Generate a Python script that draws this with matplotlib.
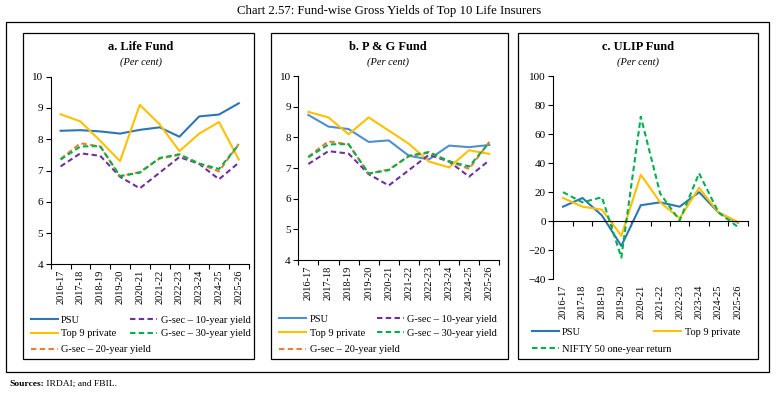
import matplotlib
matplotlib.use("Agg")
import matplotlib.pyplot as plt
from matplotlib.patches import Rectangle
from matplotlib.transforms import blended_transform_factory

plt.rcParams["font.family"] = ["Liberation Serif", "DejaVu Serif"]

years = ["2016-17", "2017-18", "2018-19", "2019-20", "2020-21",
         "2021-22", "2022-23", "2023-24", "2024-25", "2025-26"]

# a. Life Fund
life_psu = [8.27, 8.29, 8.25, 8.18, 8.30, 8.38, 8.08, 8.73, 8.79, 9.15]
life_pvt = [8.80, 8.57, 7.95, 7.30, 9.10, 8.48, 7.62, 8.18, 8.55, 7.35]
# b. P & G Fund
pg_psu = [8.73, 8.35, 8.27, 7.85, 7.90, 7.40, 7.28, 7.73, 7.68, 7.75]
pg_pvt = [8.83, 8.65, 8.10, 8.65, 8.22, 7.79, 7.21, 7.02, 7.58, 7.46]
# G-sec yields (same in a and b)
gsec10 = [7.13, 7.55, 7.47, 6.80, 6.43, 6.93, 7.43, 7.21, 6.72, 7.25]
gsec20 = [7.37, 7.87, 7.77, 6.82, 6.95, 7.38, 7.50, 7.22, 6.97, 7.85]
gsec30 = [7.35, 7.77, 7.78, 6.82, 6.93, 7.40, 7.52, 7.22, 7.05, 7.83]
# c. ULIP Fund
ulip_psu = [10, 16, 4, -17, 11, 13, 10, 20, 6, -1]
ulip_pvt = [16, 10, 8, -10, 32, 13, 2, 23, 6, -0.5]
nifty = [20, 13, 16.5, -25, 72, 19, 0.5, 33, 6, -4]

BLUE, BLUE_L, GOLD = "#2E75B6", "#4F8FCF", "#FFC000"
PURPLE, ORANGE, GREEN = "#7030A0", "#ED7D31", "#00B050"
DASH = (2.6, 1.6)
LW = 1.5

W, H = 779, 393


def box(l, t, r, b):
    return [l / W, 1 - b / H, (r - l) / W, (b - t) / H]


def fx(x):
    return x / W


def fy(y):
    return 1 - y / H


fig = plt.figure(figsize=(W / 100, H / 100), dpi=100)

# frames
for l, t, r, b in [(6, 22, 769, 372), (22.7, 33.3, 254, 359),
                   (271, 33.3, 508, 359), (518, 33.3, 758, 359)]:
    fig.patches.append(Rectangle((fx(l), fy(b)), (r - l) / W, (b - t) / H,
                                 transform=fig.transFigure, fill=False,
                                 edgecolor="black", lw=0.9))

fig.text(0.5, fy(11), "Chart 2.57: Fund-wise Gross Yields of Top 10 Life Insurers",
         ha="center", va="center", fontsize=9.2)
src = fig.text(fx(9), fy(384), "Sources:", fontweight="bold", fontsize=6.8,
               va="center")
x = list(range(len(years)))


def style(ax, ylim, yticks):
    ax.set_xlim(-0.5, len(years) - 0.5)
    ax.set_ylim(*ylim)
    ax.set_yticks(yticks)
    ax.spines["top"].set_visible(False)
    ax.spines["right"].set_visible(False)
    for s in ("left", "bottom"):
        ax.spines[s].set_linewidth(0.8)
    ax.tick_params(axis="y", labelsize=8, length=3.5, width=0.8, pad=2)
    ax.set_facecolor("none")


def cat_ticks(ax):
    ax.set_xticks([i - 0.5 for i in range(len(years) + 1)])
    ax.set_xticklabels([])
    ax.set_xticks(x, minor=True)
    ax.set_xticklabels(years, minor=True, rotation=90, fontsize=7.5)
    ax.tick_params(axis="x", which="major", length=3.5, width=0.8)
    ax.tick_params(axis="x", which="minor", length=0, pad=4)


def panel_title(cx, title):
    fig.text(fx(cx), fy(47), title, ha="center", va="center",
             fontsize=9, fontweight="bold")
    fig.text(fx(cx), fy(62), "(Per cent)", ha="center", va="center",
             fontsize=7.5, style="italic")


def leg(h, px, py):
    fig.legend([h], [h.get_label()], loc="center left",
               bbox_to_anchor=(fx(px), fy(py)), frameon=False, fontsize=7.5,
               borderpad=0, borderaxespad=0, handlelength=2.6,
               handletextpad=0.35)


def yield_panel(rect, psu, pvt, psu_col, cx, title, lx1, lx2, rows):
    ax = fig.add_axes(box(*rect))
    style(ax, (4, 10), range(4, 11))
    cat_ticks(ax)
    h1, = ax.plot(x, psu, color=psu_col, lw=LW, label="PSU")
    h2, = ax.plot(x, pvt, color=GOLD, lw=LW, label="Top 9 private")
    h4, = ax.plot(x, gsec10, color=PURPLE, lw=LW, dashes=DASH,
                  label="G-sec \u2013 10-year yield")
    h3, = ax.plot(x, gsec20, color=ORANGE, lw=LW, dashes=DASH,
                  label="G-sec \u2013 20-year yield")
    h5, = ax.plot(x, gsec30, color=GREEN, lw=LW, dashes=DASH,
                  label="G-sec \u2013 30-year yield")
    panel_title(cx, title)
    leg(h1, lx1, rows[0])
    leg(h2, lx1, rows[1])
    leg(h3, lx1, rows[2])
    leg(h4, lx2, rows[0])
    leg(h5, lx2, rows[1])
    return ax


ax_a = yield_panel((50.7, 76.7, 248.7, 264.3), life_psu, life_pvt, BLUE, 140.7,
                   "a. Life Fund", 30.5, 130, (320, 333.5, 349.5))
yield_panel((298.3, 76, 499.3, 260), pg_psu, pg_pvt, BLUE_L, 388,
            "b. P & G Fund", 279, 376.5, (319, 333, 349.5))

ax_a.annotate(" IRDAI; and FBIL.", xy=(1, 0.5), xycoords=src, va="center",
              ha="left", fontsize=6.8, annotation_clip=False)

# c. ULIP Fund
ax = fig.add_axes(box(553.3, 76, 747.7, 279.3))
style(ax, (-40, 100), range(-40, 101, 20))
ax.spines["bottom"].set_position(("data", 0))
ax.set_xticks([i - 0.5 for i in range(len(years) + 1)])
ax.tick_params(axis="x", length=3.5, width=0.8, labelbottom=False)
tr = blended_transform_factory(ax.transData, ax.transAxes)
for i, lab in enumerate(years):
    ax.text(i, -0.025, lab, transform=tr, rotation=90, ha="center", va="top",
            fontsize=7.5)
c1, = ax.plot(x, ulip_psu, color=BLUE, lw=LW, label="PSU")
c2, = ax.plot(x, ulip_pvt, color=GOLD, lw=LW, label="Top 9 private")
c3, = ax.plot(x, nifty, color=GREEN, lw=LW, dashes=DASH,
              label="NIFTY 50 one-year return")
panel_title(638, "c. ULIP Fund")
leg(c1, 531.5, 332)
leg(c2, 654, 332)
leg(c3, 531.5, 349)

fig.savefig("out.png", dpi=100)
